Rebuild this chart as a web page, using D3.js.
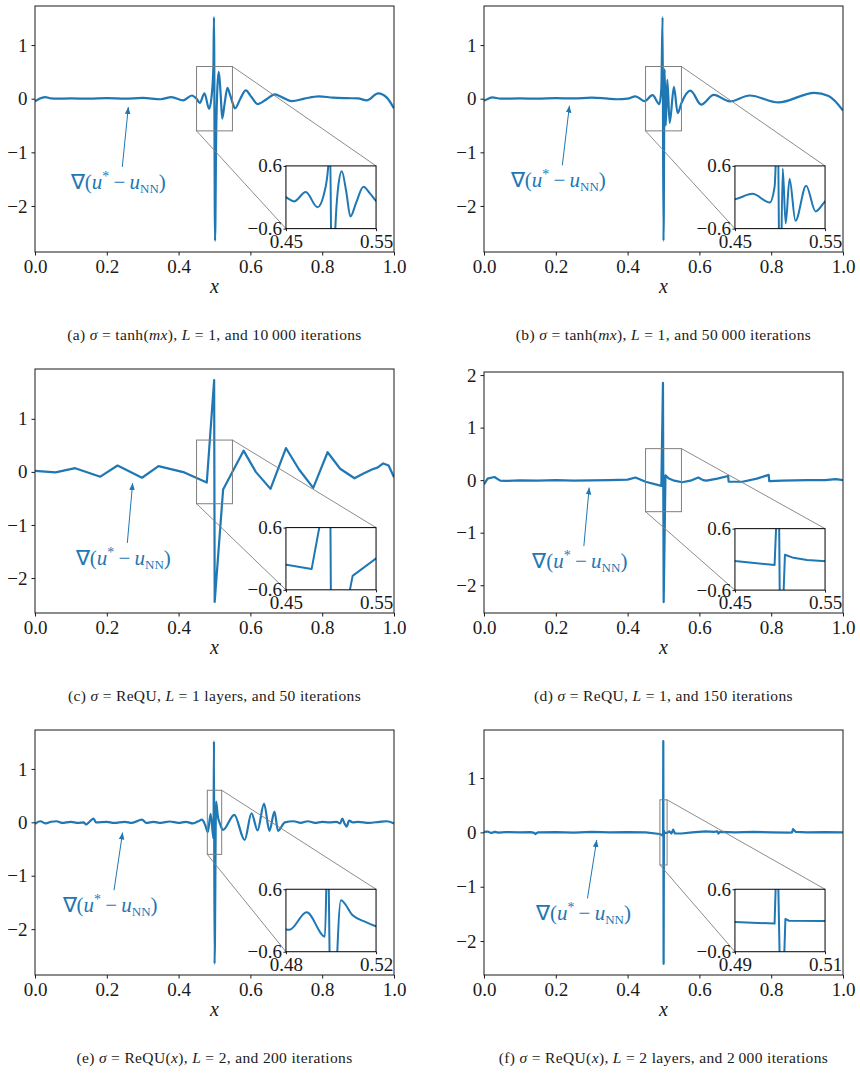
<!DOCTYPE html>
<html><head><meta charset="utf-8">
<script src="https://cdn.jsdelivr.net/npm/d3@7"></script>
<style>
body{margin:0;background:#fff}
svg text{font-family:"Liberation Serif","Times New Roman",serif !important}
</style>
</head><body>
<svg id="chart" width="860" height="1075"></svg>
<script>
// ---------------- data ----------------
const xTicks = [0, 0.2, 0.4, 0.6, 0.8, 1.0];
const yTicks4 = [-2, -1, 0, 1];
const yTicks5 = [-2, -1, 0, 1, 2];
const zoomY = [-0.6, 0.6];

// (a) tanh, L=1, 10000 iterations
const xA = [0, 0.012, 0.028, 0.045, 0.06, 0.1, 0.15, 0.2, 0.25, 0.3, 0.35, 0.38, 0.413, 0.437, 0.45, 0.459, 0.472, 0.485, 0.492, 0.497, 0.4985, 0.5015, 0.5048, 0.508, 0.512, 0.517, 0.5215, 0.528, 0.536, 0.543, 0.55, 0.557, 0.572, 0.587, 0.603, 0.62, 0.645, 0.668, 0.69, 0.715, 0.75, 0.79, 0.83, 0.87, 0.9, 0.924, 0.956, 0.98, 1.0];
const yA = [-0.05, 0.0, 0.03, 0.005, 0.0, 0.005, 0.0, 0.01, 0.0, 0.015, -0.01, 0.03, -0.03, 0.06, 0.0, -0.08, 0.1, -0.19, 0.05, 0.6, 1.52, -2.65, -0.6, 0.2, 0.5, 0.1, -0.37, -0.1, 0.2, 0.08, -0.07, -0.18, 0.0, 0.155, 0.03, -0.1, -0.01, 0.08, 0.02, -0.045, 0.0, 0.045, 0.02, 0.01, 0.005, -0.03, 0.1, 0.02, -0.18];

// (b) tanh, L=1, 50000 iterations
const xB = [0, 0.012, 0.023, 0.046, 0.1, 0.15, 0.2, 0.25, 0.3, 0.34, 0.37, 0.4, 0.422, 0.447, 0.4695, 0.4886, 0.494, 0.4975, 0.5, 0.503, 0.5063, 0.5106, 0.5172, 0.529, 0.5395, 0.55, 0.575, 0.605, 0.64, 0.685, 0.74, 0.82, 0.92, 0.96, 1.0];
const yB = [-0.04, 0.0, 0.025, 0.0, 0.005, 0.0, 0.01, 0.005, 0.02, 0.005, -0.01, 0.0, 0.045, -0.045, 0.065, -0.1, 0.2, 1.52, -2.65, 0.55, -0.5, 0.35, -0.45, 0.22, -0.27, -0.08, 0.15, -0.11, 0.07, -0.05, 0.06, -0.07, 0.11, 0.05, -0.22];

// (c) ReQU, L=1, 50 iterations
const xC = [0, 0.057, 0.112, 0.182, 0.23, 0.298, 0.344, 0.416, 0.4785, 0.499, 0.5005, 0.524, 0.581, 0.615, 0.656, 0.699, 0.735, 0.775, 0.815, 0.85, 0.89, 0.915, 0.94, 0.954, 0.97, 0.985, 1.0];
const yC = [0.02, -0.01, 0.07, -0.09, 0.12, -0.11, 0.11, -0.01, -0.2, 1.73, -2.45, -0.33, 0.4, 0.0, -0.32, 0.45, 0.05, -0.3, 0.37, 0.06, -0.12, -0.03, 0.05, 0.08, 0.16, 0.12, -0.1];

// (d) ReQU, L=1, 150 iterations
const xD = [0, 0.01, 0.029, 0.045, 0.06, 0.1, 0.15, 0.2, 0.25, 0.3, 0.35, 0.4, 0.422, 0.45, 0.494, 0.4985, 0.5005, 0.5055, 0.515, 0.53, 0.552, 0.575, 0.597, 0.61, 0.62, 0.65, 0.68, 0.6815, 0.72, 0.76, 0.793, 0.7945, 0.83, 0.9, 0.95, 0.98, 1.0];
const yD = [-0.08, 0.03, 0.06, -0.01, -0.015, -0.005, -0.01, 0.0, -0.01, -0.005, 0.0, 0.01, 0.05, -0.03, -0.11, 1.85, -2.32, 0.09, 0.03, -0.01, -0.04, -0.01, 0.05, 0.0, -0.01, 0.03, 0.08, -0.03, -0.03, 0.03, 0.1, -0.02, -0.01, 0.0, 0.0, 0.02, 0.0];

// (e) ReQU(x), L=2, 200 iterations
const xE = [0, 0.015, 0.03, 0.045, 0.06, 0.075, 0.1, 0.12, 0.136, 0.142, 0.15, 0.163, 0.17, 0.2, 0.22, 0.25, 0.27, 0.298, 0.31, 0.33, 0.35, 0.375, 0.4, 0.42, 0.44, 0.455, 0.465, 0.474, 0.4815, 0.4892, 0.4973, 0.4985, 0.5002, 0.5044, 0.5096, 0.5155, 0.52, 0.524, 0.555, 0.584, 0.603, 0.62, 0.638, 0.653, 0.667, 0.677, 0.696, 0.72, 0.74, 0.76, 0.78, 0.8, 0.82, 0.84, 0.85, 0.856, 0.862, 0.868, 0.875, 0.885, 0.9, 0.93, 0.96, 0.98, 1.0];
const yE = [-0.03, 0.02, -0.02, 0.01, 0.02, -0.01, 0.01, -0.01, 0.0, -0.04, 0.0, 0.07, 0.0, 0.01, -0.01, 0.01, -0.01, 0.05, -0.01, 0.01, -0.01, 0.015, -0.01, 0.01, -0.02, 0.02, 0.05, -0.05, -0.18, 0.16, -0.31, 1.52, -2.65, 0.39, 0.1, -0.03, -0.11, -0.14, 0.14, -0.33, 0.17, -0.15, 0.35, -0.16, 0.2, -0.16, 0.0, 0.02, -0.01, 0.02, -0.01, 0.01, 0.0, 0.01, -0.02, 0.07, -0.02, -0.08, 0.03, 0.0, 0.01, -0.01, 0.01, 0.02, -0.02];

// (f) ReQU(x), L=2, 2000 iterations
const xF = [0, 0.01, 0.02, 0.03, 0.04, 0.06, 0.1, 0.13, 0.14, 0.143, 0.15, 0.2, 0.25, 0.3, 0.35, 0.4, 0.45, 0.49, 0.4988, 0.4994, 0.5003, 0.5012, 0.502, 0.51, 0.516, 0.522, 0.527, 0.532, 0.55, 0.58, 0.617, 0.64, 0.65, 0.653, 0.657, 0.7, 0.75, 0.8, 0.85, 0.858, 0.861, 0.868, 0.9, 0.95, 1.0];
const yF = [0.01, 0.015, -0.01, 0.01, -0.005, 0.005, 0.0, 0.005, -0.01, -0.03, 0.0, 0.005, -0.005, 0.01, 0.0, 0.005, 0.0, -0.03, -0.06, 1.68, -2.42, 0.03, -0.005, -0.01, 0.02, -0.02, 0.05, -0.02, -0.02, 0.0, 0.02, 0.01, 0.02, -0.02, 0.01, 0.0, 0.01, 0.0, -0.005, 0.0, 0.06, 0.01, 0.0, 0.005, 0.0];

// zoomed x-ranges of the insets
const zoomXA = [0.45, 0.55], zoomXB = [0.45, 0.55], zoomXC = [0.45, 0.55], zoomXD = [0.45, 0.55];
const zoomXE = [0.48, 0.52], zoomXF = [0.49, 0.51];

// annotation: text centre and arrow tip (data coords)
const annTextA = [0.232, -1.57], annTipA = [0.26, -0.155];
const annTextB = [0.207, -1.54], annTipB = [0.238, -0.13];
const annTextC = [0.246, -1.64], annTipC = [0.272, -0.21];
const annTextD = [0.267, -1.56], annTipD = [0.293, -0.14];
const annTextE = [0.209, -1.57], annTipE = [0.244, -0.19];
const annTextF = [0.277, -1.51], annTipF = [0.314, -0.14];

// captions: [text, italic]
const capA = [["(a) ",0],["σ",1],[" = tanh(",0],["mx",1],["), ",0],["L",1],[" = 1, and 10\u2009000 iterations",0]];
const capB = [["(b) ",0],["σ",1],[" = tanh(",0],["mx",1],["), ",0],["L",1],[" = 1, and 50\u2009000 iterations",0]];
const capC = [["(c) ",0],["σ",1],[" = ReQU, ",0],["L",1],[" = 1 layers, and 50 iterations",0]];
const capD = [["(d) ",0],["σ",1],[" = ReQU, ",0],["L",1],[" = 1, and 150 iterations",0]];
const capE = [["(e) ",0],["σ",1],[" = ReQU(",0],["x",1],["), ",0],["L",1],[" = 2, and 200 iterations",0]];
const capF = [["(f) ",0],["σ",1],[" = ReQU(",0],["x",1],["), ",0],["L",1],[" = 2 layers, and 2\u2009000 iterations",0]];

// ---------------- drawing ----------------
const BLUE = "#1f77b4", INK = "#1a1a1a", GREY = "#7f7f7f";
const SERIF = "'Liberation Serif','Times New Roman',serif";
const svg = d3.select("#chart");
const defs = svg.append("defs");
defs.append("marker").attr("id","arrowHead").attr("viewBox","0 0 10 10")
  .attr("refX",10).attr("refY",5).attr("markerWidth",7).attr("markerHeight",7)
  .attr("markerUnits","userSpaceOnUse").attr("orient","auto")
  .append("path").attr("d","M0,1 L10,5 L0,9 Z").attr("fill",BLUE);

const panels = [
  {id:"a", xs:xA, ys:yA, curve:d3.curveMonotoneX, left:35,  top:6,   h:246, yt:yTicks4, zx:zoomXA, at:annTextA, ap:annTipA, cap:capA},
  {id:"b", xs:xB, ys:yB, curve:d3.curveMonotoneX, left:484, top:6,   h:246, yt:yTicks4, zx:zoomXB, at:annTextB, ap:annTipB, cap:capB},
  {id:"c", xs:xC, ys:yC, curve:d3.curveLinear,    left:35,  top:369, h:244, yt:yTicks4, zx:zoomXC, at:annTextC, ap:annTipC, cap:capC},
  {id:"d", xs:xD, ys:yD, curve:d3.curveLinear,    left:484, top:372, h:241, yt:yTicks5, zx:zoomXD, at:annTextD, ap:annTipD, cap:capD},
  {id:"e", xs:xE, ys:yE, curve:d3.curveMonotoneX, left:35,  top:730, h:245, yt:yTicks4, zx:zoomXE, at:annTextE, ap:annTipE, cap:capE},
  {id:"f", xs:xF, ys:yF, curve:d3.curveLinear,    left:484, top:730, h:245, yt:yTicks4, zx:zoomXF, at:annTextF, ap:annTipF, cap:capF}
];

const fmtMinus = v => (v < 0 ? "\u2212" : "") + Math.abs(v);

function styleAxis(sel, fs){
  sel.attr("font-family", SERIF);
  sel.select(".domain").remove();
  sel.selectAll(".tick line").attr("stroke", INK).attr("stroke-width", 1);
  sel.selectAll(".tick text").attr("fill", INK).attr("font-size", fs)
     .style("font-family", SERIF);
}

function drawPanel(p){
  const W = 359, H = p.h;
  const g = svg.append("g").attr("transform", `translate(${p.left},${p.top})`);
  const ext = d3.extent(p.ys), pad = (ext[1]-ext[0])*0.05;
  const x = d3.scaleLinear().domain([0,1]).range([0,W]);
  const y = d3.scaleLinear().domain([ext[0]-pad, ext[1]+pad]).range([H,0]);
  const data = p.xs.map((d,i)=>[d, p.ys[i]]);

  defs.append("clipPath").attr("id","clip"+p.id).append("rect").attr("width",W).attr("height",H);

  const line = d3.line().x(d=>x(d[0])).y(d=>y(d[1])).curve(p.curve);
  g.append("path").datum(data).attr("d", line).attr("clip-path", `url(#clip${p.id})`)
    .attr("fill","none").attr("stroke",BLUE).attr("stroke-width",2.2)
    .attr("stroke-linejoin","round").attr("stroke-linecap","butt");

  // axes
  const ax = g.append("g").attr("transform",`translate(0,${H})`)
    .call(d3.axisBottom(x).tickValues(xTicks).tickFormat(d3.format(".1f")).tickSize(3.5).tickPadding(4.5));
  styleAxis(ax, 19);
  const ay = g.append("g")
    .call(d3.axisLeft(y).tickValues(p.yt).tickFormat(fmtMinus).tickSize(3.5).tickPadding(4));
  styleAxis(ay, 19);
  g.append("rect").attr("width",W).attr("height",H).attr("fill","none").attr("stroke",INK).attr("stroke-width",1);

  // x label
  g.append("text").attr("x", W/2).attr("y", H+41).attr("text-anchor","middle")
    .attr("font-size",20).attr("font-style","italic").attr("fill",INK).text("x");

  // zoom indicator rectangle
  const rx0 = x(p.zx[0]), rx1 = x(p.zx[1]), ry0 = y(zoomY[1]), ry1 = y(zoomY[0]);
  g.append("rect").attr("x",rx0).attr("y",ry0).attr("width",rx1-rx0).attr("height",ry1-ry0)
    .attr("fill","none").attr("stroke",GREY).attr("stroke-width",1);

  // inset geometry
  const iL = 0.699*W, iR = 0.95*W, iT = 0.65*H, iB = 0.905*H;
  g.append("line").attr("x1",rx1).attr("y1",ry0).attr("x2",iR).attr("y2",iT)
    .attr("stroke",GREY).attr("stroke-width",0.9);
  g.append("line").attr("x1",rx0).attr("y1",ry1).attr("x2",iL).attr("y2",iB)
    .attr("stroke",GREY).attr("stroke-width",0.9);

  // annotation
  const tx = x(p.at[0]), ty = y(p.at[1]);
  g.append("line").attr("x1",tx+4).attr("y1",ty-16).attr("x2",x(p.ap[0])).attr("y2",y(p.ap[1]))
    .attr("stroke",BLUE).attr("stroke-width",1).attr("marker-end","url(#arrowHead)");
  const at = g.append("text").attr("x",tx).attr("y",ty+6).attr("text-anchor","middle")
    .attr("font-size",21).attr("fill",BLUE);
  at.append("tspan").text("\u2207(");
  at.append("tspan").attr("font-style","italic").text("u");
  at.append("tspan").attr("dy",-8).attr("font-size",14).text("*");
  at.append("tspan").attr("dy",8).text("\u2009\u2212\u2009");
  at.append("tspan").attr("font-style","italic").text("u");
  at.append("tspan").attr("dy",4).attr("font-size",13).text("NN");
  at.append("tspan").attr("dy",-4).text(")");

  // inset
  const ig = g.append("g").attr("transform",`translate(${iL},${iT})`);
  const iW = iR-iL, iH = iB-iT;
  const xi = d3.scaleLinear().domain(p.zx).range([0,iW]);
  const yi = d3.scaleLinear().domain(zoomY).range([iH,0]);
  ig.append("rect").attr("width",iW).attr("height",iH).attr("fill","#fff");
  defs.append("clipPath").attr("id","iclip"+p.id).append("rect").attr("width",iW).attr("height",iH);
  const iline = d3.line().x(d=>xi(d[0])).y(d=>yi(d[1])).curve(p.curve);
  ig.append("path").datum(data).attr("d", iline).attr("clip-path",`url(#iclip${p.id})`)
    .attr("fill","none").attr("stroke",BLUE).attr("stroke-width",2)
    .attr("stroke-linejoin","round");
  const iax = ig.append("g").attr("transform",`translate(0,${iH})`)
    .call(d3.axisBottom(xi).tickValues(p.zx).tickFormat(d3.format(".2f")).tickSize(2.5).tickPadding(3));
  styleAxis(iax, 19);
  const iay = ig.append("g")
    .call(d3.axisLeft(yi).tickValues(zoomY).tickFormat(v => (v<0?"\u2212":"") + Math.abs(v).toFixed(1)).tickSize(2.5).tickPadding(1.5));
  styleAxis(iay, 19);
  ig.append("rect").attr("width",iW).attr("height",iH).attr("fill","none").attr("stroke","#000").attr("stroke-width",1);

  // caption
  const ct = g.append("text").attr("x", W/2).attr("y", H+88).attr("text-anchor","middle")
    .attr("font-size",15.5).attr("letter-spacing",0.35).attr("fill",INK);
  p.cap.forEach(s => {
    const t = ct.append("tspan").text(s[0]);
    if (s[1]) t.attr("font-style","italic");
  });
}

panels.forEach(drawPanel);
</script>
</body></html>
